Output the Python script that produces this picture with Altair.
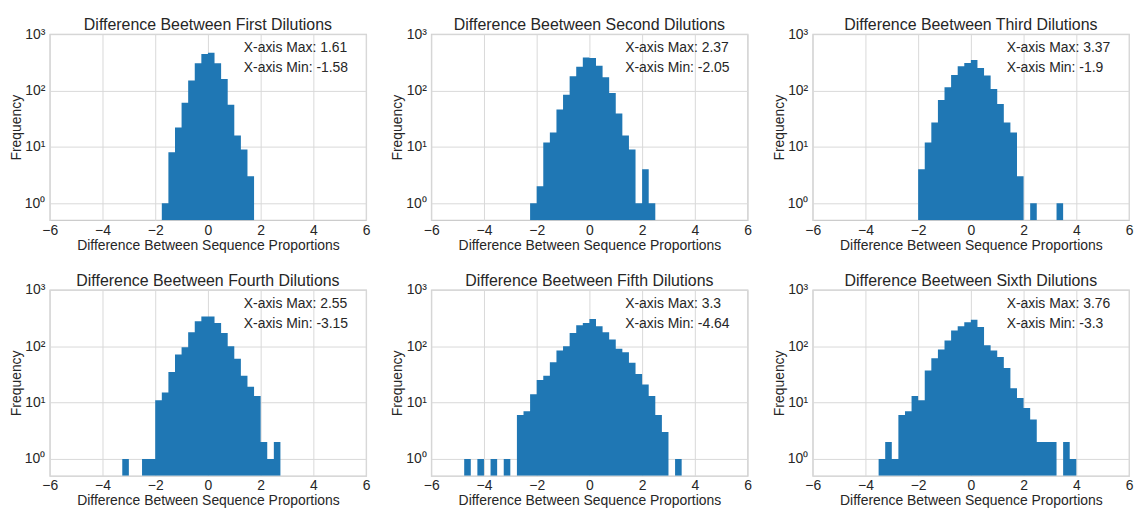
import altair as alt
import pandas as pd

# Left edges of the 0.25-wide histogram bins (shared by all panels)
BIN_LEFT = [-4.75, -4.5, -4.25, -4.0, -3.75, -3.5, -3.25, -3.0, -2.75, -2.5,
            -2.25, -2.0, -1.75, -1.5, -1.25, -1.0, -0.75, -0.5, -0.25, 0.0,
            0.25, 0.5, 0.75, 1.0, 1.25, 1.5, 1.75, 2.0, 2.25, 2.5,
            2.75, 3.0, 3.25, 3.5, 3.75]
BIN_WIDTH = 0.25

TITLES = ["First", "Second", "Third", "Fourth", "Fifth", "Sixth"]
X_MAX = ["1.61", "2.37", "3.37", "2.55", "3.3", "3.76"]
X_MIN = ["-1.58", "-2.05", "-1.9", "-3.15", "-4.64", "-3.3"]

COUNTS_FIRST = [0, 0, 0, 0, 0, 0, 0, 0, 0, 0,
                0, 0, 1, 8, 22, 61, 150, 304, 444, 468,
                304, 161, 56, 16, 9, 3, 0, 0, 0, 0,
                0, 0, 0, 0, 0]
COUNTS_SECOND = [0, 0, 0, 0, 0, 0, 0, 0, 0, 0,
                 1, 2, 12, 18, 46, 84, 179, 265, 387, 377,
                 276, 172, 90, 39, 16, 9, 1, 4, 1, 0,
                 0, 0, 0, 0, 0]
COUNTS_THIRD = [0, 0, 0, 0, 0, 0, 0, 0, 0, 0,
                0, 4, 12, 27, 68, 115, 189, 269, 308, 348,
                251, 184, 107, 58, 27, 18, 3, 0, 1, 0,
                0, 0, 1, 0, 0]
COUNTS_FOURTH = [0, 0, 0, 0, 0, 0, 1, 0, 0, 1,
                 1, 11, 15, 35, 71, 96, 177, 276, 338, 338,
                 258, 172, 100, 60, 30, 19, 13, 2, 1, 2,
                 0, 0, 0, 0, 0]
COUNTS_FIFTH = [1, 0, 1, 0, 1, 0, 1, 0, 6, 7,
                14, 25, 30, 52, 84, 100, 172, 235, 258, 304,
                225, 177, 131, 90, 78, 51, 32, 21, 13, 6,
                3, 0, 1, 0, 0]
COUNTS_SIXTH = [0, 0, 0, 0, 0, 1, 2, 1, 6, 7,
                13, 11, 37, 61, 87, 126, 189, 225, 265, 296,
                219, 104, 84, 64, 41, 18, 12, 8, 5, 2,
                2, 2, 0, 2, 1]

ALL_COUNTS = [COUNTS_FIRST, COUNTS_SECOND, COUNTS_THIRD,
              COUNTS_FOURTH, COUNTS_FIFTH, COUNTS_SIXTH]

X_TICKS = [-6, -4, -2, 0, 2, 4, 6]
Y_TICKS = [1, 10, 100, 1000]
Y_MIN = 0.5

BLUE = "#1f77b4"
TEXT = "#262626"
GRID = "#d9d9d9"
FONT = "Liberation Sans"

W, H = 318, 187


def panel(i):
    # step outline: every bin's left edge plus the closing right edge
    edges = BIN_LEFT + [BIN_LEFT[-1] + BIN_WIDTH]
    counts = ALL_COUNTS[i] + [0]
    df = pd.DataFrame({"edge": edges, "count": counts})

    x = alt.X("edge:Q",
              scale=alt.Scale(domain=[-6, 6], nice=False, zero=False),
              axis=alt.Axis(values=X_TICKS, title="Difference Between Sequence Proportions",
                            labelFlush=False, format="d"))
    y = alt.Y("shown:Q",
              scale=alt.Scale(type="log", domain=[Y_MIN, 1000], nice=False),
              axis=alt.Axis(values=Y_TICKS, title="Frequency",
                            labelExpr="datum.value == 1 ? '10⁰' : datum.value == 10 ? '10¹' : datum.value == 100 ? '10²' : '10³'"))

    hist = alt.Chart(df).transform_calculate(
        shown=f"max(datum.count, {Y_MIN})", base=f"{Y_MIN}"
    ).mark_area(color=BLUE, interpolate="step-after", clip=True, opacity=1).encode(
        x=x, y=y, y2="base:Q"
    )
    ann = pd.DataFrame({"t": ["X-axis Max: " + X_MAX[i], "X-axis Min: " + X_MIN[i]]})
    t1 = alt.Chart(ann.iloc[[0]]).mark_text(
        align="left", baseline="middle", fontSize=14, font=FONT, color=TEXT
    ).encode(x=alt.value(195), y=alt.value(14), text="t:N")
    t2 = alt.Chart(ann.iloc[[1]]).mark_text(
        align="left", baseline="middle", fontSize=14, font=FONT, color=TEXT
    ).encode(x=alt.value(195), y=alt.value(34), text="t:N")

    return alt.layer(hist, t1, t2).properties(
        width=W, height=H,
        title=alt.TitleParams(f"Difference Beetween {TITLES[i]} Dilutions", frame="group")
    )


chart = alt.concat(
    *[panel(i) for i in range(6)],
    columns=3, spacing={"row": 70, "column": 65.5}, bounds="flush"
).configure(
    font=FONT, background="white"
).configure_view(
    stroke="#cccccc", strokeWidth=1.25
).configure_axis(
    grid=True, gridColor=GRID, gridWidth=1, domain=False, ticks=False,
    labelFont=FONT, labelFontSize=14, labelColor=TEXT,
    titleFont=FONT, titleFontSize=14, titleColor=TEXT, titleFontWeight="normal",
).configure_axisX(
    labelPadding=3, titlePadding=1
).configure_axisY(
    labelPadding=5, titlePadding=1
).configure_title(
    font=FONT, fontSize=16, fontWeight="normal", color=TEXT, offset=-6
).properties(padding={"left": 0, "top": 7, "right": 0, "bottom": 0})

chart.save("out.html", embed_options={"renderer": "svg", "actions": False})
